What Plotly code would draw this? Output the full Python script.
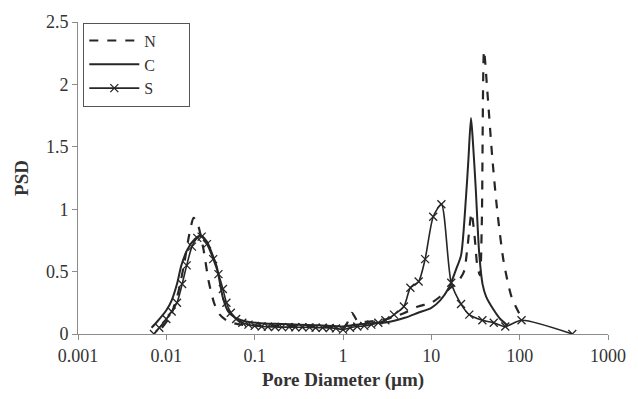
import plotly.graph_objects as go

# ---- data (pore diameter in µm, PSD) ----
n_d = [0.0089, 0.0112, 0.0135, 0.0158, 0.0182, 0.0204, 0.0229, 0.0263, 0.0302, 0.0347,
       0.0398, 0.0501, 0.0708, 0.1, 0.2, 0.398, 0.794, 1.0, 1.12, 1.26, 1.48, 2.0, 3.16,
       5.01, 7.08, 10, 12.6, 15.8, 20.0, 23.4, 25.7, 28.5, 30.9, 33.1, 35.5, 37.3, 39.5,
       43.0, 48.9, 55.5, 65.9, 81.5, 105]
n_psd = [0.05, 0.15, 0.32, 0.55, 0.80, 0.93, 0.87, 0.68, 0.42, 0.25,
         0.16, 0.10, 0.075, 0.07, 0.065, 0.06, 0.055, 0.05, 0.09, 0.17, 0.10, 0.10, 0.12,
         0.17, 0.22, 0.25, 0.30, 0.36, 0.42, 0.50, 0.70, 0.97, 0.78, 0.55, 0.47, 0.90, 2.27,
         1.95, 1.42, 1.0, 0.58, 0.29, 0.13]

c_d = [0.0068, 0.0079, 0.010, 0.0115, 0.0132, 0.0148, 0.0174, 0.0209, 0.0245, 0.0288,
       0.0331, 0.0372, 0.0437, 0.0501, 0.0575, 0.0708, 0.0891, 0.126, 0.200, 0.316, 0.501,
       0.794, 1.0, 1.26, 2.0, 3.16, 5.01, 7.08, 10, 12.6, 15.8, 19.1, 21.7, 24.7, 26.3,
       28.1, 29.5, 31.8, 34.8, 38.0, 41.7, 50.1, 60.3, 72.4]
c_psd = [0.05, 0.10, 0.19, 0.27, 0.40, 0.55, 0.68, 0.76, 0.79, 0.74,
         0.64, 0.54, 0.29, 0.18, 0.14, 0.11, 0.095, 0.085, 0.08, 0.075, 0.07,
         0.065, 0.06, 0.07, 0.085, 0.095, 0.13, 0.17, 0.21, 0.27, 0.37, 0.52, 0.63, 1.10, 1.40,
         1.73, 1.55, 1.17, 0.65, 0.40, 0.30, 0.20, 0.12, 0.07]

s_d = [0.00724, 0.00832, 0.0100, 0.0115, 0.0132, 0.0151, 0.0170, 0.0195, 0.0224, 0.0251,
       0.0288, 0.0339, 0.0389, 0.0437, 0.0479, 0.0537, 0.0617, 0.0724, 0.0851,
       0.1, 0.120, 0.141, 0.170, 0.204, 0.245, 0.288, 0.347, 0.417, 0.490, 0.589, 0.708,
       0.832, 1.0, 1.20, 1.45, 1.74, 2.09, 2.51, 3.02, 3.78, 4.89, 5.79, 7.18, 8.51, 10.5,
       13.0, 16.8, 21.7, 26.9, 37.8, 50.9, 68.7, 105, 394]
s_psd = [0.0, 0.05, 0.12, 0.18, 0.25, 0.40, 0.55, 0.70, 0.77, 0.78,
         0.72, 0.60, 0.48, 0.36, 0.25, 0.17, 0.12, 0.09, 0.075,
         0.065, 0.06, 0.058, 0.056, 0.055, 0.055, 0.054, 0.054, 0.053, 0.05, 0.05, 0.048,
         0.045, 0.035, 0.05, 0.06, 0.065, 0.075, 0.09, 0.11, 0.155, 0.22, 0.37, 0.42, 0.60, 0.94,
         1.04, 0.41, 0.24, 0.155, 0.11, 0.09, 0.06, 0.11, 0.0]

series_names = ["N", "C", "S"]
x_tickvals = [0.001, 0.01, 0.1, 1, 10, 100, 1000]
x_ticktext = ["0.001", "0.01", "0.1", "1", "10", "100", "1000"]
y_tickvals = [0, 0.5, 1, 1.5, 2, 2.5]

LINE = "#262626"
AXIS = "#8c8c8c"
TEXT = "#333333"
FONT = "Liberation Serif"
PAD = "\u00a0" * 7

fig = go.Figure()
fig.add_trace(go.Scatter(x=n_d, y=n_psd, name=series_names[0] + PAD, mode="lines",
                         line=dict(color=LINE, width=2.2, dash="dash", shape="spline", smoothing=0.7)))
fig.add_trace(go.Scatter(x=c_d, y=c_psd, name=series_names[1] + PAD, mode="lines",
                         line=dict(color=LINE, width=2.0, shape="spline", smoothing=0.7)))
fig.add_trace(go.Scatter(x=s_d, y=s_psd, name=series_names[2] + PAD, mode="lines+markers",
                         line=dict(color=LINE, width=1.6, shape="spline", smoothing=0.7),
                         marker=dict(symbol="x-thin", size=8, line=dict(color=LINE, width=1.3))))

fig.update_layout(
    width=638, height=399,
    margin=dict(l=78, r=19, t=17, b=64),
    paper_bgcolor="white", plot_bgcolor="white",
    font=dict(family=FONT, size=18, color=TEXT),
    showlegend=True,
    legend=dict(x=0.01, y=0.998, xanchor="left", yanchor="top",
                bordercolor="#555555", borderwidth=1, bgcolor="white",
                font=dict(family=FONT, size=16, color=TEXT),
                tracegroupgap=0, itemwidth=50),
    xaxis=dict(type="log", range=[-3, 3], tickvals=x_tickvals, ticktext=x_ticktext,
               showgrid=False, zeroline=False, showline=True, linecolor=AXIS, linewidth=1,
               ticks="outside", ticklen=5, tickcolor=AXIS,
               title=dict(text="<b>Pore Diameter (µm)</b>", font=dict(family=FONT, size=19, color=TEXT),
                          standoff=8)),
    yaxis=dict(range=[0, 2.5], tickvals=y_tickvals, showgrid=False, zeroline=False,
               showline=True, linecolor=AXIS, linewidth=1,
               ticks="outside", ticklen=5, tickcolor=AXIS,
               title=dict(text="<b>PSD</b>", font=dict(family=FONT, size=19, color=TEXT),
                          standoff=12)),
)

fig.write_html("out.html")
